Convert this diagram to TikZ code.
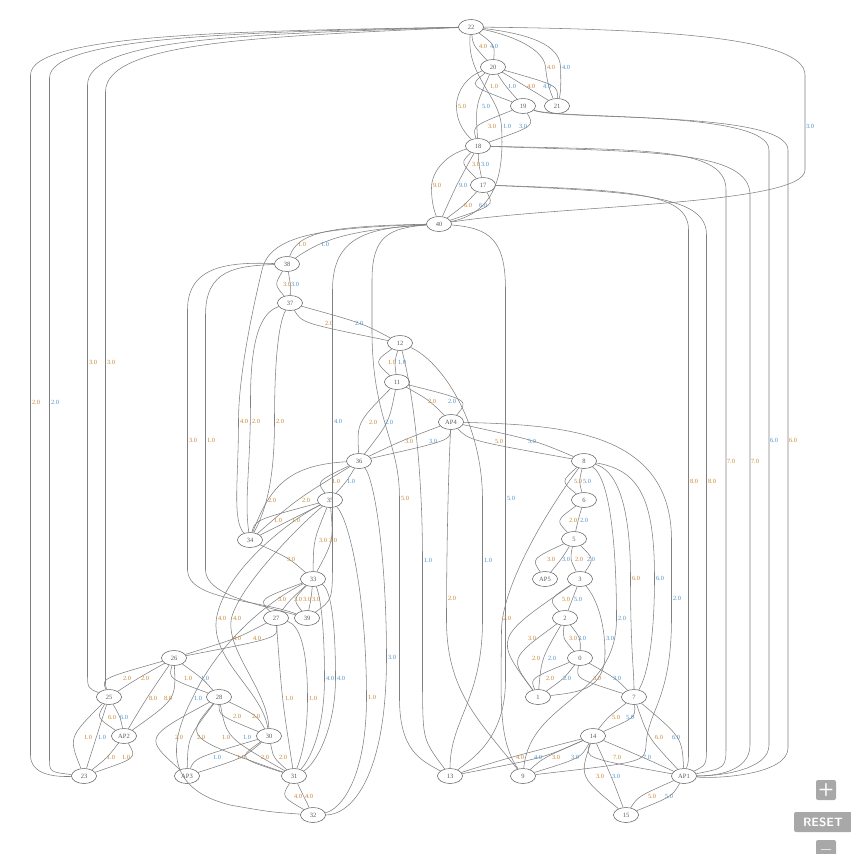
\documentclass[tikz,border=0pt]{standalone}
\usepackage{fontspec}
\setmainfont{Liberation Serif}
\usetikzlibrary{shapes.geometric,calc}
\definecolor{edgec}{HTML}{808080}
\definecolor{nodec}{HTML}{5A5A5A}
\definecolor{lo}{HTML}{C8832F}
\definecolor{lb}{HTML}{4A8FC8}
\definecolor{btn}{HTML}{A8A8A8}
\tikzset{
 vtx/.style={ellipse,draw=nodec,line width=0.5pt,minimum width=25pt,minimum height=15pt,inner sep=0pt,font=\fontsize{6.5}{6.5}\selectfont,text=nodec},
 edg/.style={draw=edgec,line width=0.55pt},
 lbl/.style={font=\fontsize{6.3}{6.3}\selectfont,inner sep=0pt},
 uibtn/.style={fill=btn,rounded corners=2pt,text=white,font=\sffamily\bfseries,inner sep=0pt}
}
\newcommand\ee[6]{%
 \draw[edg] (#1) .. controls ($2*(#3-5.5,#4)-0.5*(#1.center)-0.5*(#2.center)$) .. (#2);
 \node[lbl,text=#6] (l-#1-#2-#3) at (#3,#4) {#5};}
\newcommand\lab[4]{\node[lbl,text=#4] (#1) at (#2) {#3};}
\begin{document}
\begin{tikzpicture}[x=1pt,y=-1pt]
\useasboundingbox (0,0) rectangle (851,854);
% nodes
\node[vtx] (22) at (471,27) {22};
\node[vtx] (20) at (493,67) {20};
\node[vtx] (19) at (523,106) {19};
\node[vtx] (21) at (557,106) {21};
\node[vtx] (18) at (478,146) {18};
\node[vtx] (17) at (483,185) {17};
\node[vtx] (40) at (439,224) {40};
\node[vtx] (38) at (287,264) {38};
\node[vtx] (37) at (290,303) {37};
\node[vtx] (12) at (400,343) {12};
\node[vtx] (11) at (397,382) {11};
\node[vtx] (AP4) at (451,422) {AP4};
\node[vtx] (36) at (359,461) {36};
\node[vtx] (8) at (584,461) {8};
\node[vtx] (6) at (584,500) {6};
\node[vtx] (35) at (330,500) {35};
\node[vtx] (34) at (250,540) {34};
\node[vtx] (5) at (574,539) {5};
\node[vtx] (AP5) at (545,579) {AP5};
\node[vtx] (3) at (580,579) {3};
\node[vtx] (33) at (313,579) {33};
\node[vtx] (27) at (276,618) {27};
\node[vtx] (39) at (307,618) {39};
\node[vtx] (2) at (565,618) {2};
\node[vtx] (0) at (580,658) {0};
\node[vtx] (26) at (174,658) {26};
\node[vtx] (25) at (109,697) {25};
\node[vtx] (28) at (219,697) {28};
\node[vtx] (1) at (538,697) {1};
\node[vtx] (7) at (634,697) {7};
\node[vtx] (30) at (269,736) {30};
\node[vtx] (AP2) at (124,736) {AP2};
\node[vtx] (14) at (593,736) {14};
\node[vtx] (AP3) at (187,776) {AP3};
\node[vtx] (31) at (294,776) {31};
\node[vtx] (23) at (84,776) {23};
\node[vtx] (13) at (450,776) {13};
\node[vtx] (9) at (523,776) {9};
\node[vtx] (AP1) at (684,776) {AP1};
\node[vtx] (32) at (313,815) {32};
\node[vtx] (15) at (626,815) {15};
% top cluster
\ee{22}{20}{483}{46}{4.0}{lo}
\ee{22}{20}{494}{46}{4.0}{lb}
\draw[edg] (22) .. controls (515,36) and (544,50) .. (545.5,67) .. controls (547,82) and (550,92) .. (21);
\lab{l2221a}{551,67}{4.0}{lo}
\draw[edg] (22) .. controls (530,34) and (560,45) .. (560.5,67) .. controls (561,82) and (561,92) .. (21);
\lab{l2221b}{566,67}{4.0}{lb}
\ee{20}{21}{531}{86}{4.0}{lo}
\ee{20}{21}{547}{86}{4.0}{lb}
\ee{20}{19}{494}{86}{1.0}{lo}
\ee{20}{19}{512}{86}{1.0}{lb}
\draw[edg] (20) .. controls (468,76) and (456.5,90) .. (456.5,106) .. controls (456.5,124) and (466,134) .. (18);
\lab{l2018a}{462,106}{5.0}{lo}
\ee{20}{18}{486}{106}{5.0}{lb}
\ee{19}{18}{492}{126}{3.0}{lo}
\ee{19}{18}{523}{126}{3.0}{lb}
\ee{18}{17}{476}{164}{3.0}{lo}
\ee{18}{17}{485}{164}{3.0}{lb}
\draw[edg] (18) .. controls (448,154) and (431.5,170) .. (431.5,188) .. controls (431.5,202) and (434,210) .. (40);
\lab{l1840a}{437,185}{9.0}{lo}
\ee{18}{40}{463}{185}{9.0}{lb}
\ee{17}{40}{468}{205}{6.0}{lo}
\ee{17}{40}{483}{205}{6.0}{lb}
% 22 - 40
\draw[edg] (22) .. controls (466,75) and (499,95) .. (501.5,126) .. controls (504,170) and (498,212) .. (40);
\lab{l2240a}{507,126}{1.0}{lb}
\draw[edg] (22) .. controls (650,29) and (805,36) .. (805,75) -- (805,170) .. controls (805,205) and (560,205) .. (40);
\lab{l2240b}{810,126}{3.0}{lb}
% 22 - 23, 22 - 25
\draw[edg] (22) .. controls (250,31) and (30.5,33) .. (30.5,75) -- (30.5,755) .. controls (30.5,775) and (55,777) .. (23);
\lab{l2223a}{36,402}{2.0}{lo}
\draw[edg] (22) .. controls (250,32) and (49.5,36) .. (49.5,78) -- (49.5,758) .. controls (49.5,772) .. (23);
\lab{l2223b}{55,402}{2.0}{lb}
\draw[edg] (22) .. controls (250,34) and (87.5,38) .. (87.5,85) -- (87.5,672) .. controls (87.5,688) .. (25);
\lab{l2225a}{93,362}{3.0}{lo}
\draw[edg] (22) .. controls (250,37) and (105.5,43) .. (105.5,92) -- (105.5,680) .. controls (105.5,686) .. (25);
\lab{l2225b}{111,362}{3.0}{lo}
% right side to AP1
\draw[edg] (19) .. controls (560,120) and (769,110) .. (769,150) -- (769,745) .. controls (769,770) and (720,776) .. (AP1);
\lab{l19a}{774,440}{6.0}{lb}
\draw[edg] (19) .. controls (560,121) and (788,110) .. (788,150) -- (788,748) .. controls (788,774) and (720,779) .. (AP1);
\lab{l19b}{793,440}{6.0}{lo}
\draw[edg] (18) .. controls (650,150) and (726,148) .. (726,190) -- (726,745) .. controls (726,768) .. (AP1);
\lab{l18a}{731,461}{7.0}{lo}
\draw[edg] (18) .. controls (650,152) and (750,150) .. (750,195) -- (750,745) .. controls (750,772) and (715,776) .. (AP1);
\lab{l18b}{755,461}{7.0}{lo}
\draw[edg] (17) .. controls (640,190) and (688.5,195) .. (688.5,230) -- (688.5,750) .. controls (688.5,762) .. (AP1);
\lab{l17a}{694,481}{8.0}{lo}
\draw[edg] (17) .. controls (650,192) and (706.5,198) .. (706.5,235) -- (706.5,745) .. controls (706.5,765) .. (AP1);
\lab{l17b}{712,481}{8.0}{lo}
% 40 region
\draw[edg] (40) .. controls (330,226) and (298,232) .. (38);
\lab{l4038a}{302,244}{1.0}{lo}
\draw[edg] (40) .. controls (352,230) and (324,238) .. (38);
\lab{l4038b}{325,244}{1.0}{lb}
\ee{38}{37}{287}{284}{3.0}{lo}
\ee{38}{37}{295}{284}{3.0}{lb}
\ee{37}{12}{329}{323}{2.0}{lo}
\ee{37}{12}{359}{323}{2.0}{lb}
\ee{12}{11}{392}{362}{1.0}{lo}
\ee{12}{11}{402}{362}{1.0}{lb}
\ee{11}{AP4}{432}{401}{2.0}{lo}
\ee{11}{AP4}{452}{401}{2.0}{lb}
\ee{11}{36}{373}{422}{2.0}{lo}
\ee{11}{36}{389}{422}{2.0}{lb}
\ee{AP4}{36}{409}{441}{3.0}{lo}
\ee{AP4}{36}{433}{441}{3.0}{lb}
\ee{AP4}{8}{499}{441}{5.0}{lo}
\ee{AP4}{8}{532}{441}{5.0}{lb}
% 40 long lines
\draw[edg] (40) .. controls (370,228) and (332.5,235) .. (332.5,290) -- (332.5,560) .. controls (332.5,600) .. (39);
\lab{l4039a}{338,421}{4.0}{lb}
\draw[edg] (40) .. controls (320,228) and (270,235) .. (262,270) .. controls (250,320) and (238.5,380) .. (238.5,421) .. controls (238.5,480) and (232,520) .. (34);
\lab{l4034}{244,421}{4.0}{lo}
\draw[edg] (40) .. controls (390,228) and (372,235) .. (372,280) -- (372,330) .. controls (372,420) and (399.5,440) .. (399.5,498) -- (399.5,700) .. controls (400,750) and (420,760) .. (13);
\lab{l4013a}{405,498}{5.0}{lo}
\draw[edg] (40) .. controls (490,228) and (505.5,240) .. (505.5,290) -- (505.5,680) .. controls (505.5,740) and (470,760) .. (13);
\lab{l4013b}{511,498}{5.0}{lb}
% 12 - 13
\draw[edg] (12) .. controls (415,400) and (422.5,480) .. (422.5,560) -- (422.5,690) .. controls (423,740) .. (13);
\lab{l1213a}{428,560}{1.0}{lb}
\draw[edg] (12) .. controls (440,360) and (482.5,420) .. (482.5,500) -- (482.5,620) .. controls (482.5,700) and (450,720) .. (13);
\lab{l1213b}{488,560}{1.0}{lb}
% AP4 - 9
\draw[edg] (AP4) .. controls (448,480) and (446.5,560) .. (446.5,620) .. controls (446.5,690) and (478,720) .. (9);
\lab{lap49a}{452,598}{2.0}{lo}
\draw[edg] (AP4) .. controls (560,425) and (671.5,430) .. (671.5,540) -- (671.5,620) .. controls (671,700) and (648,710) .. (646,745) .. controls (645,762) .. (9);
\lab{lap49b}{677,598}{2.0}{lb}
% right cluster
\ee{8}{6}{578}{481}{5.0}{lo}
\ee{8}{6}{587}{481}{5.0}{lb}
\ee{6}{5}{573}{520}{2.0}{lo}
\ee{6}{5}{584}{520}{2.0}{lb}
\ee{5}{AP5}{551}{559}{3.0}{lo}
\ee{5}{AP5}{566}{559}{3.0}{lb}
\ee{5}{3}{579}{559}{2.0}{lo}
\ee{5}{3}{591}{559}{2.0}{lb}
\ee{3}{2}{566}{599}{5.0}{lo}
\ee{3}{2}{578}{599}{5.0}{lb}
\ee{2}{0}{573}{638}{3.0}{lo}
\ee{2}{0}{582}{638}{3.0}{lb}
\ee{3}{1}{532}{638}{3.0}{lo}
\draw[edg] (3) .. controls (598,600) and (604.5,625) .. (605,650) .. controls (606,690) and (580,692) .. (1);
\lab{l31b}{610,638}{3.0}{lb}
\ee{2}{1}{536}{658}{2.0}{lo}
\ee{2}{1}{552}{658}{2.0}{lb}
\ee{0}{1}{550}{678}{2.0}{lo}
\ee{0}{1}{567}{678}{2.0}{lb}
\ee{0}{7}{597}{678}{3.0}{lo}
\ee{0}{7}{617}{678}{3.0}{lb}
\ee{7}{14}{616}{717}{5.0}{lo}
\ee{7}{14}{630}{717}{5.0}{lb}
\ee{7}{AP1}{659}{737}{6.0}{lo}
\ee{7}{AP1}{676}{737}{6.0}{lb}
\draw[edg] (8) .. controls (615,470) and (630.5,500) .. (630.5,578) .. controls (630.5,650) and (634,670) .. (7);
\lab{l87a}{636,578}{6.0}{lo}
\draw[edg] (8) .. controls (640,470) and (654.5,500) .. (654.5,578) .. controls (654.5,650) and (645,680) .. (7);
\lab{l87b}{660,578}{6.0}{lb}
\draw[edg] (8) .. controls (540,520) and (502,590) .. (501.5,630) .. controls (501,700) and (498,740) .. (9);
\lab{l89a}{507,618}{2.0}{lo}
\draw[edg] (8) .. controls (612,480) and (616.5,560) .. (616.5,618) .. controls (617,700) and (530,700) .. (9);
\lab{l89b}{622,618}{2.0}{lb}
\ee{14}{13}{520}{757}{4.0}{lo}
\ee{14}{13}{538}{757}{4.0}{lb}
\ee{14}{9}{556}{757}{3.0}{lo}
\ee{14}{9}{575}{757}{3.0}{lb}
\ee{14}{AP1}{617}{757}{7.0}{lo}
\ee{14}{AP1}{647}{757}{7.0}{lb}
\ee{14}{15}{600}{776}{3.0}{lo}
\ee{14}{15}{616}{776}{3.0}{lb}
\ee{AP1}{15}{652}{796}{5.0}{lo}
\ee{AP1}{15}{669}{796}{5.0}{lb}
% left cluster
\draw[edg] (38) .. controls (230,262) and (187.5,265) .. (187.5,310) -- (187.5,570) .. controls (187.5,600) and (260,600) .. (39);
\lab{l3839a}{193,440}{3.0}{lo}
\draw[edg] (38) .. controls (235,266) and (205.5,270) .. (205.5,315) -- (205.5,570) .. controls (205.5,595) and (260,605) .. (39);
\lab{l3839b}{211,440}{1.0}{lo}
\draw[edg] (37) .. controls (262,312) and (250.5,335) .. (250.5,400) .. controls (250.5,470) and (244,500) .. (34);
\lab{l3734a}{256,421}{2.0}{lo}
\draw[edg] (37) .. controls (280,320) and (274.5,350) .. (274.5,421) .. controls (274.5,480) and (266,510) .. (34);
\lab{l3734b}{280,421}{2.0}{lo}
\ee{36}{35}{336}{481}{1.0}{lo}
\ee{36}{35}{351}{481}{1.0}{lb}
\draw[edg] (36) .. controls (290,465) and (270,485) .. (34);
\lab{l3634a}{272,500}{2.0}{lo}
\ee{36}{34}{306}{500}{2.0}{lo}
\ee{35}{34}{278}{520}{1.0}{lo}
\ee{35}{34}{296}{520}{1.0}{lo}
\ee{35}{33}{323}{540}{3.0}{lo}
\ee{35}{33}{333}{540}{3.0}{lo}
\ee{34}{33}{291}{559}{3.0}{lo}
\ee{33}{27}{282}{599}{3.0}{lo}
\ee{33}{27}{298}{599}{3.0}{lo}
\ee{33}{39}{307}{599}{3.0}{lo}
\ee{33}{39}{316}{599}{3.0}{lo}
\draw[edg] (35) .. controls (290,520) and (225,570) .. (216.5,618) .. controls (210,660) and (262,690) .. (30);
\lab{l3530a}{222,618}{4.0}{lo}
\draw[edg] (35) .. controls (300,525) and (240,585) .. (231.5,618) .. controls (225,650) and (268,690) .. (30);
\lab{l3530b}{237,618}{4.0}{lo}
\ee{27}{26}{237}{638}{4.0}{lo}
\ee{27}{26}{257}{638}{4.0}{lo}
\ee{26}{28}{188}{678}{1.0}{lo}
\ee{26}{28}{205}{678}{1.0}{lb}
\ee{26}{25}{127}{678}{2.0}{lo}
\ee{26}{25}{145}{678}{2.0}{lo}
\ee{26}{AP2}{153}{698}{8.0}{lo}
\ee{26}{AP2}{168}{698}{8.0}{lo}
\ee{25}{AP2}{112}{717}{6.0}{lo}
\ee{25}{AP2}{124}{717}{6.0}{lb}
\ee{25}{23}{88}{737}{1.0}{lo}
\ee{25}{23}{102}{737}{1.0}{lb}
\ee{AP2}{23}{111}{757}{1.0}{lo}
\ee{AP2}{23}{126}{757}{1.0}{lo}
\ee{28}{30}{237}{716}{2.0}{lo}
\ee{28}{30}{256}{716}{2.0}{lo}
\ee{28}{AP3}{179}{737}{2.0}{lo}
\ee{28}{AP3}{201}{737}{2.0}{lo}
\ee{28}{31}{226}{737}{1.0}{lo}
\ee{28}{31}{247}{737}{1.0}{lb}
\ee{30}{AP3}{217}{757}{1.0}{lb}
\ee{30}{AP3}{241}{757}{1.0}{lo}
\ee{30}{31}{265}{757}{2.0}{lo}
\ee{30}{31}{283}{757}{2.0}{lo}
\ee{31}{32}{298}{796}{4.0}{lo}
\ee{31}{32}{309}{796}{4.0}{lo}
\ee{27}{31}{289}{698}{1.0}{lo}
\draw[edg] (27) .. controls (300,625) and (307.5,650) .. (307.5,698) .. controls (307.5,740) and (300,760) .. (31);
\lab{l2731b}{313,698}{1.0}{lo}
\draw[edg] (33) .. controls (322,600) and (324.5,640) .. (324.5,678) .. controls (324.5,730) and (310,760) .. (31);
\lab{l3331a}{330,678}{4.0}{lb}
\draw[edg] (33) .. controls (332,590) and (335.5,630) .. (335.5,678) .. controls (335.5,730) and (315,765) .. (31);
\lab{l3331b}{341,678}{4.0}{lb}
\draw[edg] (35) .. controls (350,520) and (366.5,600) .. (366.5,697) .. controls (366.5,780) and (340,810) .. (32);
\lab{l3532a}{372,697}{1.0}{lo}
\draw[edg] (36) .. controls (375,480) and (386.5,560) .. (386.5,657) .. controls (386.5,780) and (350,815) .. (32);
\lab{l3632}{392,657}{3.0}{lb}
\draw[edg] (33) .. controls (270,600) and (220,640) .. (192.5,698) .. controls (165,750) and (170,790) .. (230,805) .. controls (270,812) .. (32);
\lab{l3532b}{198,698}{1.0}{lb}
% UI buttons
\node[uibtn,minimum width=20pt,minimum height=20pt] (plusbtn) at (826,790) {\fontsize{18}{18}\selectfont +};
\node[uibtn,minimum width=58pt,minimum height=20pt] (resetbtn) at (823,822) {\fontsize{12}{12}\selectfont RESET};
\node[uibtn,minimum width=20pt,minimum height=20pt] (minusbtn) at (826,850) {\fontsize{18}{18}\selectfont $-$};
\end{tikzpicture}
\end{document}
